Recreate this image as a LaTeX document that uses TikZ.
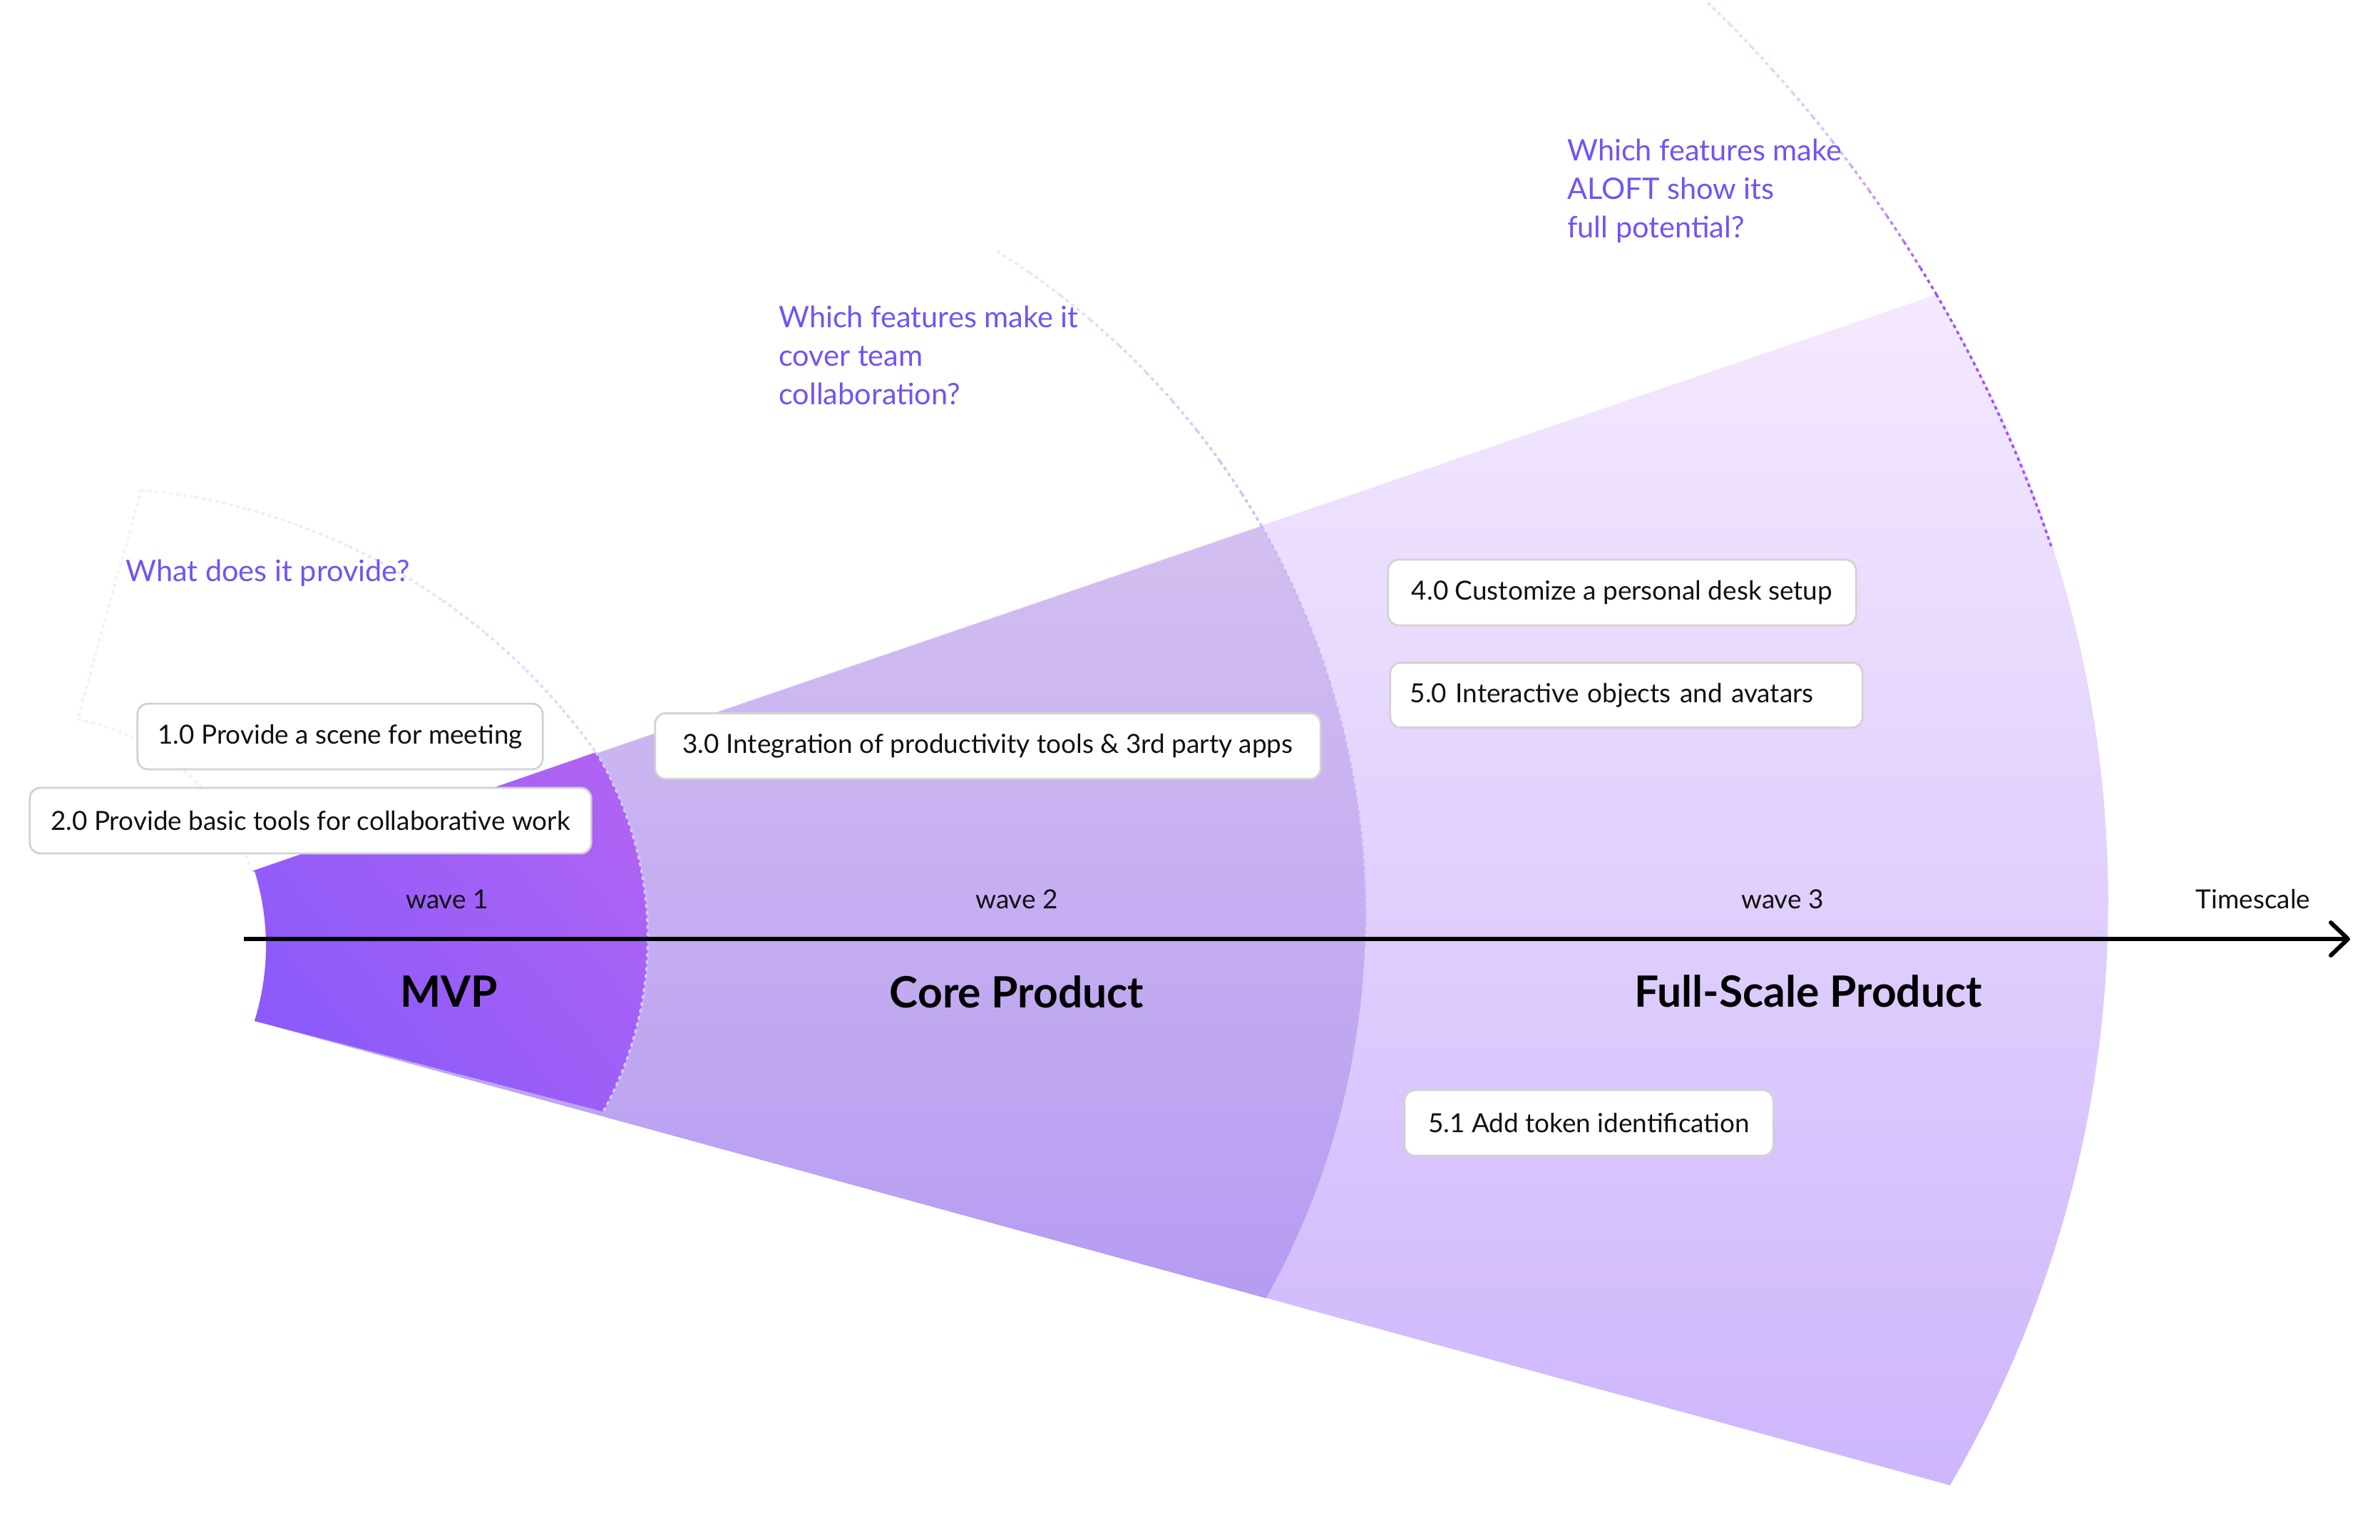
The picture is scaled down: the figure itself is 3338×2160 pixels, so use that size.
\documentclass[tikz,border=0pt]{standalone}
\usepackage{fontspec}
\setmainfont{Lato}
\usetikzlibrary{arrows.meta, positioning}
\definecolor{cink}{HTML}{111111}
\definecolor{cask}{HTML}{7253F5}
\definecolor{cboxline}{HTML}{D2D2D2}
\definecolor{cfulltop}{HTML}{F4E9FE}
\definecolor{cfullbot}{HTML}{CDB6FC}
\definecolor{ccoretop}{HTML}{D3BFF0}
\definecolor{ccorebot}{HTML}{B69CF2}
\definecolor{cmvpa}{HTML}{8B5AF9}
\definecolor{cmvpb}{HTML}{AE63F4}
\definecolor{cguide}{HTML}{9B45FF}
\definecolor{ccoreguide}{HTML}{B08CF0}
\definecolor{cguidelt}{HTML}{C7B0FA}
\definecolor{cmvpdot}{HTML}{D9C9FB}
\tikzset{
  every picture/.style={line width=0.7pt},
  feat/.style={draw=cboxline, fill=white, rounded corners=0.15cm, line width=0.8pt, minimum height=0.92cm, inner xsep=0.28cm, inner ysep=0pt, font=\fontsize{10.5}{12.5}\selectfont, text=cink},
  ask/.style={font=\fontsize{11.8}{15.3}\selectfont, text=cask, align=left, inner sep=0pt, anchor=base west},
  wave/.style={font=\fontsize{10.5}{12}\selectfont, text=cink, inner sep=0pt, anchor=base},
  stage/.style={font=\bfseries\fontsize{17.2}{20}\selectfont, text=black, inner sep=0pt, anchor=base},
  guide/.style={line width=0.95pt, dash pattern=on 1.4pt off 1.4pt},
  timeline/.style={-{Straight Barb[length=0.24cm, width=0.46cm, round]}, line width=1.7pt, draw=black},
}
\begin{document}
\begin{tikzpicture}[x=0.01cm, y=-0.01cm]
  \useasboundingbox (0,0) rectangle (3338,2160);
  \coordinate (lt) at (353,1222);
  \coordinate (lb) at (357,1432);
  \coordinate (mvpc) at (114,1569);
  \coordinate (corec) at (815,1285);
  \coordinate (fullc) at (1052,1385);

  % ---- fan: full-scale, core, mvp
  \shade[top color=cfulltop, bottom color=cfullbot]
    (lt) -- (2716,413) arc[start angle=-31.6, end angle=30.3, radius=1624]
    -- (lb) arc[start angle=17.4, end angle=-17.3, radius=352] -- cycle;
  \shade[top color=ccoretop, bottom color=ccorebot]
    (lt) -- (1769.6,738.2) arc[start angle=-29.8, end angle=29.16, radius=1100]
    -- (lb) arc[start angle=17.4, end angle=-17.3, radius=352] -- cycle;
  \shade[top color=cmvpb, bottom color=cmvpa, shading angle=-50]
    (lt) -- (836,1055) arc[start angle=-31.1, end angle=28.8, radius=505]
    -- (lb) arc[start angle=17.4, end angle=-17.3, radius=352] -- cycle;

  % ---- guide arcs
  \draw[guide, draw=cguidelt!22!white] (lt) arc[start angle=-18.57, end angle=-79.19, radius=321] -- (198,687);
  \foreach \i in {0,...,9} {
    \pgfmathsetmacro{\aa}{-84.56+4.911*\i}
    \pgfmathsetmacro{\ab}{\aa+4.911}
    \pgfmathsetmacro{\pc}{20+4*\i}
    \draw[guide, draw=cguidelt!\pc!white] (mvpc) ++(\aa:886) arc[start angle=\aa, end angle=\ab, radius=886];
  }
  \draw[guide, draw=cmvpdot] (836,1055) arc[start angle=-31.1, end angle=28.8, radius=505];

  \foreach \i in {0,...,9} {
    \pgfmathsetmacro{\aa}{-57.97+2.817*\i}
    \pgfmathsetmacro{\ab}{\aa+2.817}
    \pgfmathsetmacro{\pc}{22+4*\i}
    \draw[guide, draw=ccoreguide!\pc!white] (corec) ++(\aa:1100) arc[start angle=\aa, end angle=\ab, radius=1100];
  }
  \draw[guide, draw=ccoreguide!65!white] (corec) ++(-29.8:1100) arc[start angle=-29.8, end angle=2.2, radius=1100];

  \foreach \i in {0,...,11} {
    \pgfmathsetmacro{\aa}{-45.8+1.292*\i}
    \pgfmathsetmacro{\ab}{\aa+1.292}
    \pgfmathsetmacro{\pc}{20+75*(\i/11)*(\i/11)}
    \draw[guide, draw=cguide!\pc!white] (fullc) ++(\aa:1927) arc[start angle=\aa, end angle=\ab, radius=1927];
  }
  \draw[guide, draw=cguide!95!white] (fullc) ++(-30.3:1927) arc[start angle=-30.3, end angle=-18.7, radius=1927];

  % ---- timescale
  \coordinate (t0) at (342,1317);
  \coordinate (t1) at (3296,1317);
  \draw[timeline] (t0) -- (t1);

  \node[wave] (w1) at (627,1274) {wave 1};
  \node[wave] (w2) at (1426,1274) {wave 2};
  \node[wave] (w3) at (2500,1274) {wave 3};
  \node[wave] (tscale) at (3160,1274) {Timescale};
  \node[stage] (mvp) at (630,1412) {MVP};
  \node[stage] (core) at (1426,1413) {Core Product};
  \node[stage] (full) at (2536,1412) {Full-Scale Product};

  % ---- questions
  \node[ask] (askmvp) at (175,815) {What does it provide?};
  \node[ask] (askcore) at (1091,567) {Which features make it\\cover team\\collaboration?};
  \node[ask] (askfull) at (2197,333) {Which features make\\ALOFT show its\\full potential?};

  % ---- features
  \node[feat, minimum width=5.68cm] (f10) at (477,1033) {1.0 Provide a scene for meeting};
  \node[feat, minimum width=7.87cm] (f20) at (435.5,1151) {2.0 Provide basic tools for collaborative work};
  \node[feat, minimum width=9.33cm] (f30) at (1385.5,1046.5) {3.0 Integration of productivity tools \& 3rd party apps};
  \node[feat, minimum width=6.56cm] (f40) at (2275,831) {4.0 Customize a personal desk setup};
  \node[feat, text width=6.06cm, align=left, minimum height=0.91cm] (f50) at (2281,975) {5.0 Interactive objects and avatars};
  \node[feat, minimum width=5.17cm] (f51) at (2228.5,1575) {5.1 Add token identification};
\end{tikzpicture}
\end{document}
